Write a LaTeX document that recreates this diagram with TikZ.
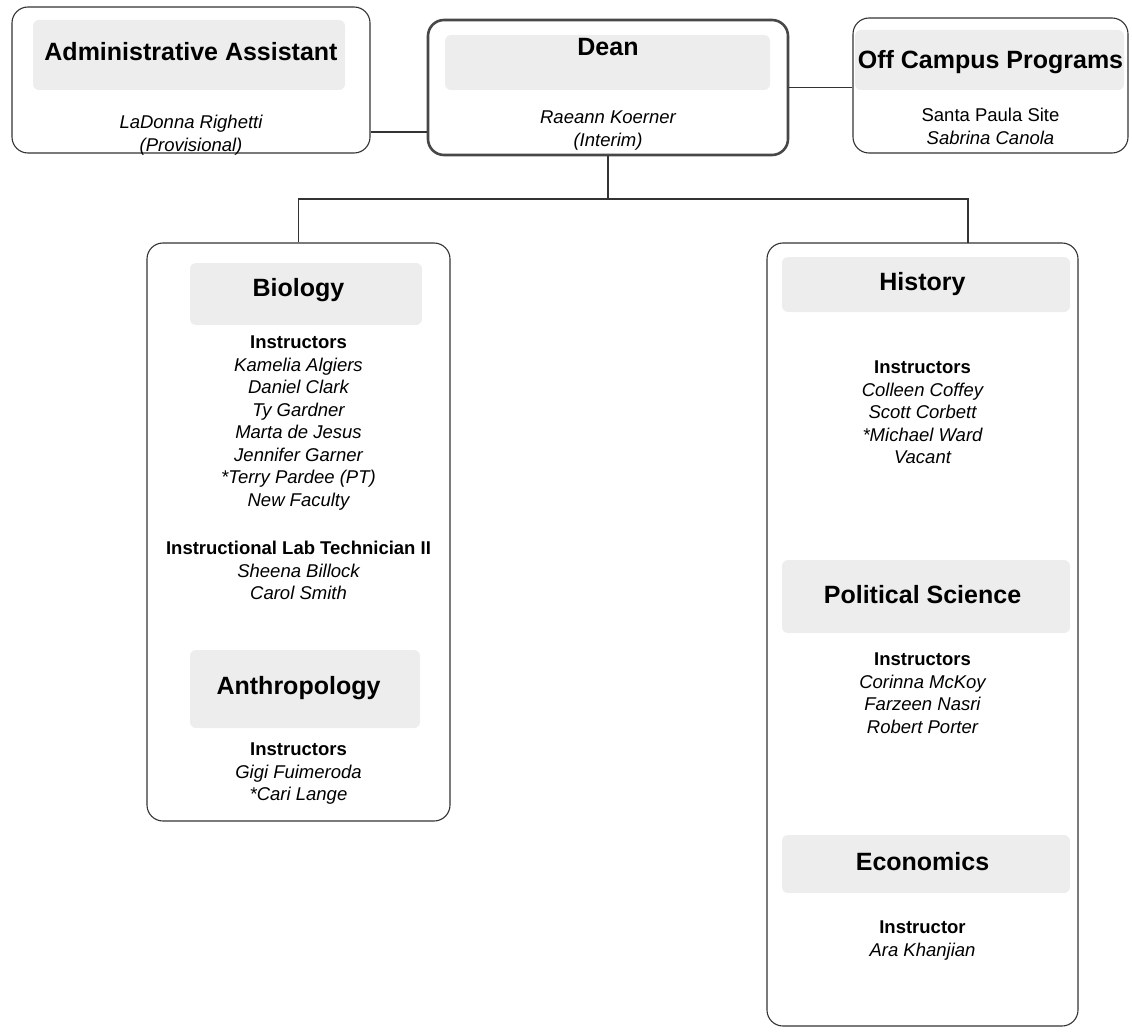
\documentclass[tikz,border=0pt]{standalone}
\usepackage{fontspec}
\setmainfont{Liberation Sans}
\usetikzlibrary{positioning, calc}

\newcommand{\rolehead}[1]{{\normalfont\bfseries #1}}

\tikzset{
  unit/.style={draw=black!80, line width=1.1pt, rounded corners=16pt,
               inner sep=0pt},
  deanbox/.style={unit, draw=black!72, line width=2.6pt},
  band/.style={fill=black!7, rounded corners=6pt},
  heading/.style={font=\fontsize{25}{28}\selectfont\bfseries,
                  inner sep=0pt},
  people/.style={font=\fontsize{18.5}{22.5}\selectfont\itshape,
                 align=center, inner sep=0pt, anchor=north},
  link/.style={draw=black!80, line width=1.1pt}
}

\begin{document}
\begin{tikzpicture}[x=1pt, y=-1pt]
  \useasboundingbox (0,0) rectangle (1132,1035);

  %% ── Column centres ─────────────────────────────────────────
  \def\xadm{191}     % administrative assistant
  \def\xdean{608}    % dean
  \def\xoff{990.5}   % off campus
  \def\xbio{298.5}   % left department box
  \def\xhis{922.5}   % right department box

  %% ── Shaded title bands ─────────────────────────────────────
  \fill[band] (33,20)   rectangle (345,90);
  \fill[band] (445,35)  rectangle (770,90);
  \fill[band] (855,30)  rectangle (1124,90);
  \fill[band] (190,263) rectangle (422,325);
  \fill[band] (190,650) rectangle (420,728);
  \fill[band] (782,257) rectangle (1070,312);
  \fill[band] (782,560) rectangle (1070,633);
  \fill[band] (782,835) rectangle (1070,893);

  %% ── Top row ────────────────────────────────────────────────
  \node[unit, minimum width=358pt, minimum height=146pt]
    (admin) at (\xadm,80) {};
  \node[heading] (admintitle) at (\xadm,52) {Administrative Assistant};
  \node[people] (adminname) at (\xadm,115)
    {LaDonna Righetti\\(Provisional)};

  \node[deanbox, minimum width=360pt, minimum height=135pt]
    (dean) at (\xdean,87.5) {};
  \node[heading] (deantitle) at (\xdean,47) {Dean};
  \node[people] (deanname) at (\xdean,111)
    {Raeann Koerner\\(Interim)};

  \node[unit, minimum width=275pt, minimum height=135pt]
    (off) at (\xoff,85.5) {};
  \node[heading] (offtitle) at (\xoff,62) {Off Campus Programs};
  \node[people] (offname) at (\xoff,108)
    {{\upshape Santa Paula Site}\\Sabrina Canola};

  %% ── Left department box ────────────────────────────────────
  \node[unit, minimum width=303pt, minimum height=578pt]
    (bio) at (\xbio,532) {};
  \node[heading] (biotitle) at (\xbio,290) {Biology};
  \node[people] (bioinstr) at (\xbio,336)
    {\rolehead{Instructors}\\Kamelia Algiers\\Daniel Clark\\Ty Gardner\\
     Marta de Jesus\\Jennifer Garner\\*Terry Pardee (PT)\\New Faculty};
  \node[people] (biolab) at (\xbio,541)
    {\rolehead{Instructional Lab Technician II}\\Sheena Billock\\Carol Smith};
  \node[heading] (anthtitle) at (\xbio,688) {Anthropology};
  \node[people] (anthinstr) at (\xbio,743)
    {\rolehead{Instructors}\\Gigi Fuimeroda\\*Cari Lange};

  %% ── Right department box ───────────────────────────────────
  \node[unit, minimum width=311pt, minimum height=783pt]
    (hist) at (\xhis,634.5) {};
  \node[heading] (histtitle) at (\xhis,284) {History};
  \node[people] (histinstr) at (\xhis,361)
    {\rolehead{Instructors}\\Colleen Coffey\\Scott Corbett\\*Michael Ward\\Vacant};
  \node[heading] (poltitle) at (\xhis,595) {Political Science};
  \node[people] (polinstr) at (\xhis,653)
    {\rolehead{Instructors}\\Corinna McKoy\\Farzeen Nasri\\Robert Porter};
  \node[heading] (ecotitle) at (\xhis,862) {Economics};
  \node[people] (ecoinstr) at (\xhis,921)
    {\rolehead{Instructor}\\Ara Khanjian};

  %% ── Connectors ─────────────────────────────────────────────
  \draw[link] ([yshift=-52pt]admin.east) coordinate (aside)
    -- (aside -| dean.west);
  \draw[link] (dean.east) -- (dean.east -| off.west);

  \coordinate (bus) at (\xdean,199);
  \coordinate (histin) at (968,243);
  \draw[link] (dean.south) -- (bus);
  \draw[link] (bio.north) |- (bus) -| (histin);

\end{tikzpicture}
\end{document}
